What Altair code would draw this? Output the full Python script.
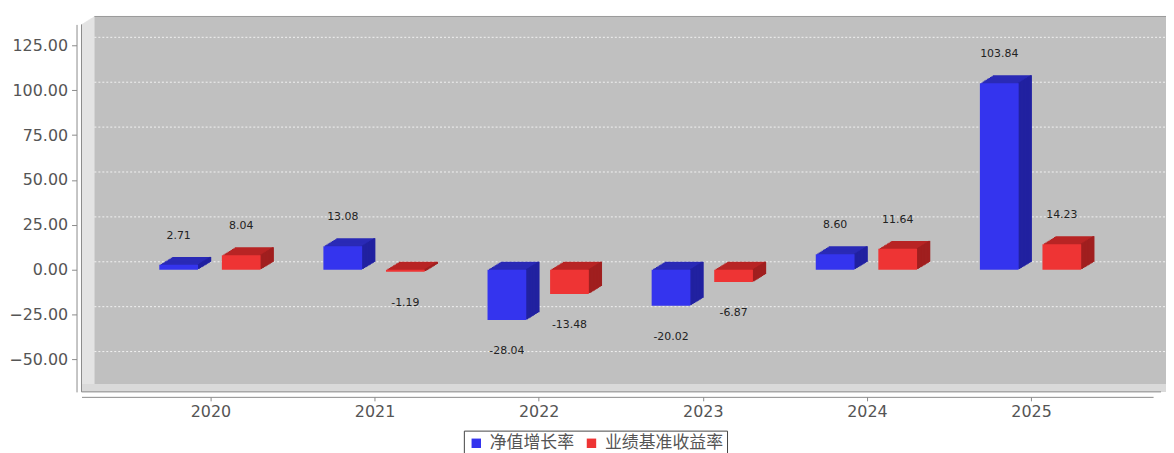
import altair as alt
import pandas as pd

# ---------------- data ----------------
years = [2020, 2021, 2022, 2023, 2024, 2025]
nav_growth = [2.71, 13.08, -28.04, -20.02, 8.60, 103.84]      # 净值增长率
benchmark = [8.04, -1.19, -13.48, -6.87, 11.64, 14.23]        # 业绩基准收益率
series_names = ["净值增长率", "业绩基准收益率"]
y_ticks = [-50, -25, 0, 25, 50, 75, 100, 125]

# ---------------- layout ----------------
W, H = 1079, 370          # front plane of the plot
DX, DY = 13, 8            # 3D depth offset
BAR_W = 39
N = 9                     # extrusion steps
X_DOMAIN = [2019.2446, 2025.7134]
Y_DOMAIN = [-68.03, 136.61]

BLUE = ["#3434ee", "#2a2ab6", "#2121a0"]   # front, top, side
RED = ["#ee3434", "#b82424", "#a01f1f"]

xs = alt.Scale(domain=X_DOMAIN, nice=False, zero=False)
ys = alt.Scale(domain=Y_DOMAIN, nice=False, zero=False)

X = alt.X("year:Q", scale=xs, title=None,
          axis=alt.Axis(values=years, format="d", tickSize=4, labelPadding=3,
                        offset=5, grid=False))
Y = alt.Y("value:Q", scale=ys, title=None,
          axis=alt.Axis(values=y_ticks, format=".2f", tickSize=5, labelPadding=4,
                        offset=5, grid=False))

legend = alt.Legend(orient="none", legendX=385, legendY=409, direction="horizontal",
                    title=None, strokeColor="#444", fillColor="white", padding=4,
                    symbolType="square", symbolSize=90, symbolStrokeWidth=0,
                    labelFont="Noto Sans CJK SC", labelFontSize=17, labelColor="#555",
                    labelOffset=5, columnPadding=9, cornerRadius=0)
color = alt.Color("series:N", scale=alt.Scale(domain=series_names,
                                              range=[BLUE[0], RED[0]]),
                  legend=legend)


def make_df(vals, name):
    return pd.DataFrame({"year": years, "value": vals, "series": name,
                         "label": [f"{v:.2f}" for v in vals]})


df_nav = make_df(nav_growth, series_names[0])
df_bm = make_df(benchmark, series_names[1])
one = pd.DataFrame({"a": [0]})

layers = []

# ---- walls ----
for k in range(DX):
    layers.append(alt.Chart(one).mark_rect(color="#dadada").encode(
        x=alt.value(k), x2=alt.value(k + 1),
        y=alt.value(-DY * (k + 0.5) / DX), y2=alt.value(H)))
layers.append(alt.Chart(one).mark_rect(color="#dadada").encode(
    x=alt.value(0), x2=alt.value(W + DX), y=alt.value(H - DY), y2=alt.value(H)))
layers.append(alt.Chart(one).mark_rect(color="#c0c0c0").encode(
    x=alt.value(DX), x2=alt.value(W + DX), y=alt.value(-DY), y2=alt.value(H - DY)))
layers.append(alt.Chart(one).mark_rule(color="#999999", strokeWidth=1).encode(
    x=alt.value(DX), x2=alt.value(W + DX), y=alt.value(-DY)))
layers.append(alt.Chart(one).mark_rule(color="#8a8a8a", strokeWidth=1).encode(
    x=alt.value(0), x2=alt.value(W + DX - 5), y=alt.value(H)))
layers.append(alt.Chart(one).mark_rule(color="#8a8a8a", strokeWidth=1).encode(
    x=alt.value(0), y=alt.value(0), y2=alt.value(H)))

# ---- gridlines on the back wall ----
grid_df = pd.DataFrame({"value": y_ticks})
layers.append(alt.Chart(grid_df).mark_rule(color="#f2f2f2", strokeDash=[2, 2],
                                           strokeWidth=1, yOffset=-DY).encode(
    y=Y, x=alt.value(DX), x2=alt.value(W + DX)))


# ---- 3D bars ----
def bars(df, cx, cols):
    out = []
    for k in range(N, 0, -1):
        dy = -DY * k / N
        out.append(alt.Chart(df).mark_bar(size=BAR_W, color=cols[1],
                                          xOffset=cx + DX * k / N,
                                          yOffset=dy, y2Offset=dy).encode(
            x=X, y=Y, y2=alt.datum(0)))
    for k in range(N, 0, -1):
        dy = -DY * k / N
        mid = (DX * (k - 1) / N + DX * k / N) / 2
        out.append(alt.Chart(df).mark_bar(size=DX / N + 0.6, color=cols[2],
                                          xOffset=cx + BAR_W / 2 + mid,
                                          yOffset=dy, y2Offset=dy).encode(
            x=X, y=Y, y2=alt.datum(0)))
    out.append(alt.Chart(df).mark_bar(size=BAR_W, xOffset=cx).encode(
        x=X, y=Y, y2=alt.datum(0), color=color))
    return out


layers += bars(df_nav, -32, BLUE)
layers += bars(df_bm, 31, RED)

# ---- value labels ----
for df, cx in [(df_nav, -32), (df_bm, 31)]:
    layers.append(alt.Chart(df).transform_filter("datum.value >= 0").mark_text(
        font="DejaVu Sans", fontSize=11, color="#222", xOffset=cx, yOffset=-29).encode(
        x=X, y=Y, text="label:N"))
    layers.append(alt.Chart(df).transform_filter("datum.value < 0").mark_text(
        font="DejaVu Sans", fontSize=11, color="#222", xOffset=cx, yOffset=31.5).encode(
        x=X, y=Y, text="label:N"))

chart = alt.layer(*layers).properties(
    width=W, height=H,
    padding={"left": 74, "top": 15, "right": 13, "bottom": 60},
    autosize=alt.AutoSizeParams(type="none"),
    background="white",
).configure_view(stroke=None).configure_axis(
    labelFont="DejaVu Sans", labelFontSize=16, labelColor="#555555",
    domainColor="#8a8a8a", tickColor="#8a8a8a", domainWidth=1, tickWidth=1,
)

chart.save("out.html", embed_options={"renderer": "svg", "actions": False})
